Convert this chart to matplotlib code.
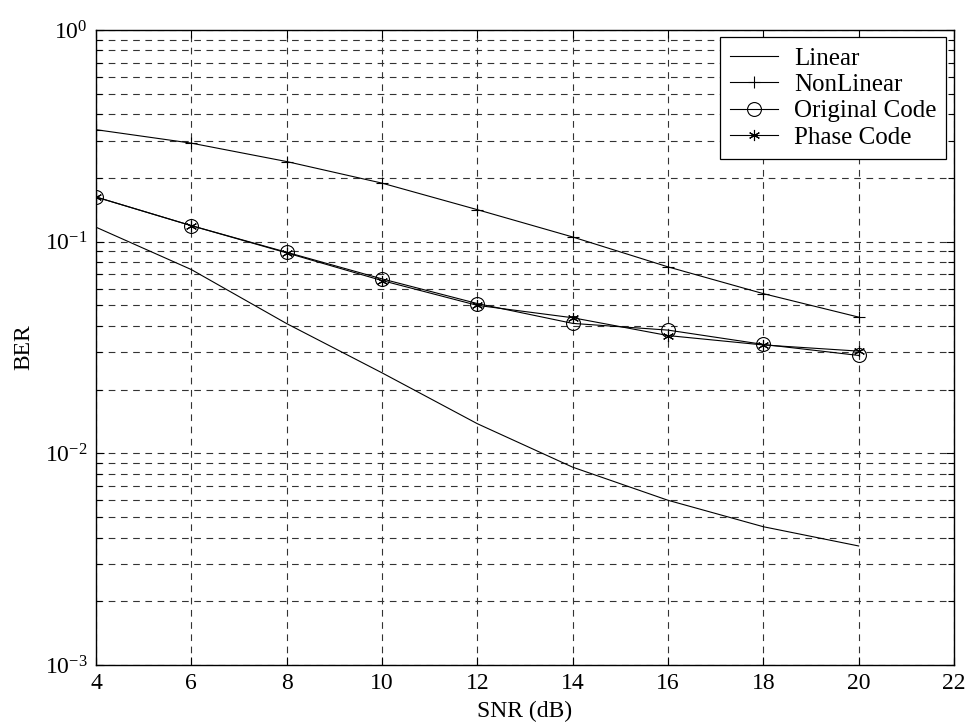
import matplotlib
matplotlib.use("Agg")
import matplotlib.pyplot as plt
from matplotlib.ticker import LogLocator, NullFormatter, FixedLocator

plt.rcParams['font.family'] = ['Liberation Serif', 'DejaVu Serif']
plt.rcParams['mathtext.fontset'] = 'custom'
plt.rcParams['mathtext.rm'] = 'Liberation Serif'
plt.rcParams['mathtext.it'] = 'Liberation Serif:italic'

snr_db = [4, 6, 8, 10, 12, 14, 16, 18, 20]
ber_linear = [0.117, 0.0738, 0.041, 0.024, 0.0138, 0.0086, 0.0060, 0.0045, 0.00365]
ber_nonlinear = [0.338, 0.292, 0.239, 0.189, 0.1416, 0.1052, 0.076, 0.0568, 0.044]
ber_original = [0.1625, 0.119, 0.0891, 0.0667, 0.051, 0.0411, 0.0382, 0.0327, 0.029]
ber_phase = [0.1625, 0.119, 0.0885, 0.0655, 0.0500, 0.0437, 0.0360, 0.0325, 0.0304]

x_ticks = [4, 6, 8, 10, 12, 14, 16, 18, 20, 22]

fig = plt.figure(figsize=(9.70, 7.24), dpi=100)
ax = fig.add_axes([0.099, 0.0815, 0.8845, 0.8771])

lw = 0.8
ax.semilogy(snr_db, ber_linear, color='black', lw=lw, label='Linear')
ax.semilogy(snr_db, ber_nonlinear, color='black', lw=lw, marker='+',
            markersize=9, markeredgewidth=0.8, label='NonLinear')
ax.semilogy(snr_db, ber_original, color='black', lw=lw, marker='o',
            markersize=10, markerfacecolor='none', markeredgewidth=0.8,
            label='Original Code')
ax.semilogy(snr_db, ber_phase, color='black', lw=lw, marker=(6, 2, 0),
            markersize=8, markeredgewidth=0.8, label='Phase Code')

ax.set_xlim(4, 22)
ax.set_ylim(1e-3, 1)
ax.xaxis.set_major_locator(FixedLocator(x_ticks))
ax.yaxis.set_major_locator(LogLocator(base=10, numticks=10))
ax.yaxis.set_minor_locator(LogLocator(base=10, subs=range(2, 10), numticks=20))
ax.yaxis.set_minor_formatter(NullFormatter())

grid_style = dict(color='0.2', linestyle=(0, (6, 5)), linewidth=0.8)
ax.grid(True, which='major', axis='both', **grid_style)
ax.grid(True, which='minor', axis='y', **grid_style)
ax.set_axisbelow(True)

ax.tick_params(which='both', direction='in', top=True, right=True,
               labelsize=17, width=0.8, color='black')
ax.tick_params(which='major', length=6, pad=6)
ax.tick_params(which='minor', length=4)
for s in ax.spines.values():
    s.set_linewidth(1.0)
    s.set_color('black')

ax.set_xlabel('SNR (dB)', fontsize=17, labelpad=5)
ax.set_ylabel('BER', fontsize=17, labelpad=8)

leg = ax.legend(loc='upper right', fontsize=18, frameon=True, fancybox=False,
                edgecolor='black', framealpha=1, handlelength=1.9,
                borderaxespad=0.3, labelspacing=0.15, borderpad=0.4,
                handletextpad=0.65)
leg.get_frame().set_linewidth(0.9)

fig.savefig('out.png', dpi=100, facecolor='white')
